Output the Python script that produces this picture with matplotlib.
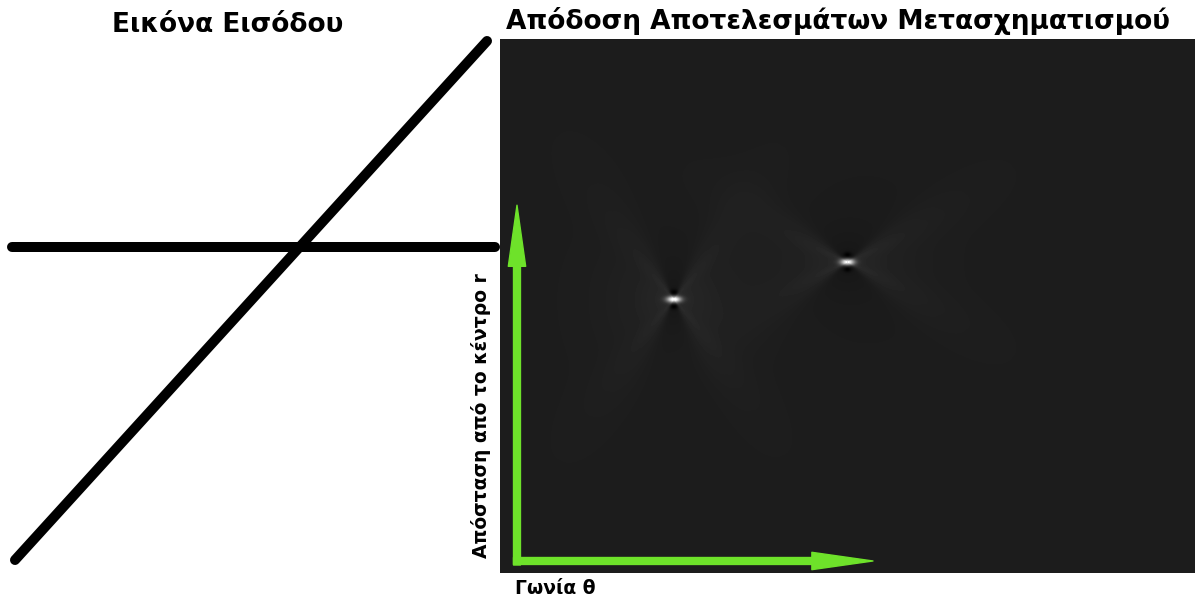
import numpy as np
import matplotlib.pyplot as plt

plt.rcParams['font.family'] = ['DejaVu Sans']

# texts
left_title = "Εικόνα Εισόδου"
right_title = "Απόδοση Αποτελεσμάτων Μετασχηματισμού"
r_label = "Απόσταση από το κέντρο r"
theta_label = "Γωνία θ"

# input image: two line segments, image pixel coords (origin top-left)
line_x = [[12, 495], [15, 487]]
line_y = [[208, 208], [521, 2]]

# hough space: peaks
theta_range = (0, 180)
r_range = (0, 800)
peak_theta = [45, 90]
peak_r = [410, 466]
peak_amp = [0.9, 0.85]
peak_wing = [55, 30]      # opening angle of the butterfly, deg
bg_level = 0.11

green = '#6ee22a'

fig = plt.figure(figsize=(11.95, 6.01), dpi=100)
fig.patch.set_facecolor('white')

# left panel
ax1 = fig.add_axes([0, 28 / 601, 500 / 1195, 534 / 601])
for xs, ys in zip(line_x, line_y):
    ax1.plot(xs, ys, color='black', lw=7.2, solid_capstyle='round', clip_on=False)
ax1.set_xlim(0, 500)
ax1.set_ylim(534, 0)
ax1.axis('off')

# right panel: accumulator image
ny, nx = 534, 695
th = np.linspace(theta_range[0], theta_range[1], nx)
rr = np.linspace(r_range[1], r_range[0], ny)
T, R = np.meshgrid(th, rr)
acc = np.full((ny, nx), bg_level)
px_th = nx / (theta_range[1] - theta_range[0])
px_r = ny / (r_range[1] - r_range[0])
for t0, r0, a, w in zip(peak_theta, peak_r, peak_amp, peak_wing):
    dx = (T - t0) * px_th
    dy = (R - r0) * px_r
    d = np.hypot(dx, dy)
    phi = np.degrees(np.arctan2(np.abs(dy), np.abs(dx)))
    side = np.tanh((w - phi) / 10)
    acc += 0.06 * np.clip(side, 0, None) * np.exp(-d / 40)
    acc -= 0.03 * np.clip(-side, 0, None) * np.exp(-d / 25)
    acc += 0.05 * np.exp(-((phi - w) / 12) ** 2) * np.exp(-d / 70)
    acc -= 0.09 * np.exp(-(dx / 4) ** 2 - ((np.abs(dy) - 7) / 3) ** 2)
    acc += a * np.exp(-(dx / 7) ** 2 - (dy / 3.2) ** 2)
acc = np.clip(acc, 0, 1)

ax2 = fig.add_axes([500 / 1195, 28 / 601, 695 / 1195, 534 / 601])
ax2.imshow(acc, cmap='gray', vmin=0, vmax=1, aspect='auto',
           extent=[theta_range[0], theta_range[1], r_range[0], r_range[1]],
           interpolation='bilinear')
ax2.axis('off')

arrow = dict(arrowstyle='simple,head_length=4.4,head_width=1.25,tail_width=0.5',
             mutation_scale=10, color=green, shrinkA=0, shrinkB=0)
ax2.annotate('', xy=(4.4, 551), xytext=(4.4, 12), arrowprops=arrow)
ax2.annotate('', xy=(96.6, 18), xytext=(3.5, 18), arrowprops=arrow)

# labels
fig.text(228 / 1195, 1 - 25 / 601, left_title, ha='center', va='center',
         fontsize=19, fontweight='bold')
fig.text(838 / 1195, 1 - 21 / 601, right_title, ha='center', va='center',
         fontsize=19, fontweight='bold')
fig.text(481 / 1195, 1 - 416 / 601, r_label, ha='center', va='center',
         rotation=90, fontsize=13.5, fontweight='bold')
fig.text(515 / 1195, 1 - 589 / 601, theta_label, ha='left', va='center',
         fontsize=13.5, fontweight='bold')

fig.savefig('out.png', dpi=100)
